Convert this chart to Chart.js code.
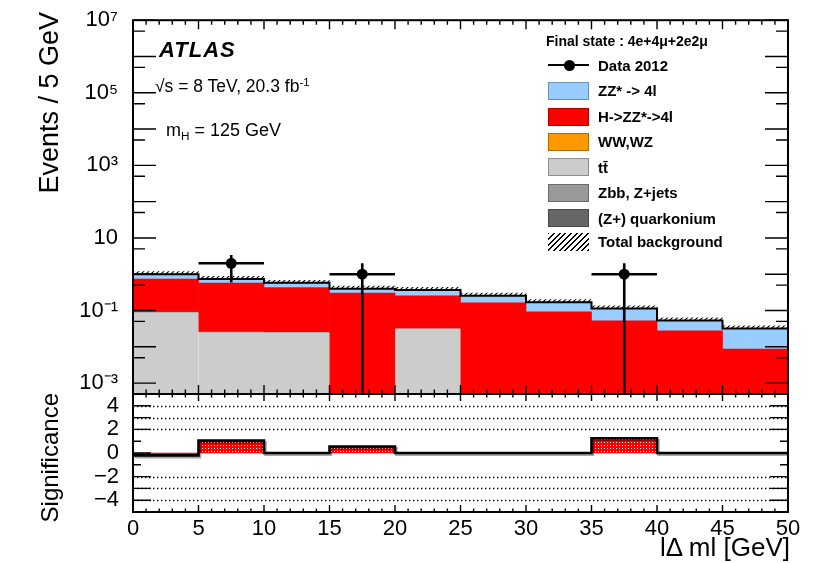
<!DOCTYPE html>
<html>
<head>
<meta charset="utf-8">
<script src="https://cdn.jsdelivr.net/npm/chart.js@4.4.1/dist/chart.umd.min.js"></script>
<style>
  html, body { margin: 0; background: #fff; overflow: hidden; }
  #wrap { position: relative; width: 830px; height: 563px; overflow: hidden;
          font-family: "Liberation Sans", Arial, Helvetica, sans-serif; color: #000; }
  canvas { position: absolute; left: 0; top: 0; }
  .txt { position: absolute; white-space: nowrap; line-height: 1; }
  .rot { transform-origin: 100% 0; transform: rotate(-90deg); text-align: right; width: 300px; }
  .sw { position: absolute; left: 548px; width: 41px; height: 18px; box-sizing: border-box;
        border: 1px solid rgba(0,0,0,0.3); }
  .lg { position: absolute; left: 598px; font-weight: bold; font-size: 15px; line-height: 1; white-space: nowrap; }
  .sup { position: relative; top: -0.55em; font-size: 0.65em; }
  .sub { position: relative; top: 0.3em; font-size: 0.65em; }
</style>
</head>
<body>
<div id="wrap">
  <canvas id="mainChart" width="830" height="563"></canvas>
  <canvas id="sigChart" width="830" height="563"></canvas>

  <div class="txt rot" style="left:-264px; top:12px; font-size:27px;">Events / 5 GeV</div>
  <div class="txt rot" style="left:-262px; top:393px; font-size:24px;">Significance</div>
  <div class="txt" style="right:40px; top:534px; font-size:26px;">lΔ ml [GeV]</div>

  <div class="txt" style="left:159px; top:39px; font-size:22px; font-weight:bold; font-style:italic; letter-spacing:1px;">ATLAS</div>
  <div class="txt" style="left:155px; top:78px; font-size:17.5px;">√s = 8 TeV, 20.3 fb<span class="sup">-1</span></div>
  <div class="txt" style="left:166px; top:121px; font-size:18px;">m<span class="sub">H</span> = 125 GeV</div>

  <div id="legend"></div>
</div>

<script>
// bins of |delta m| (GeV)
const binCenters = [2.5, 7.5, 12.5, 17.5, 22.5, 27.5, 32.5, 37.5, 42.5, 47.5];
const binWidth = 5;

// data 2012
const dataCounts = [0, 2, 0, 1, 0, 0, 0, 1, 0, 0];
const dataErr    = [0, 1.41, 0, 1, 0, 0, 0, 1, 0, 0];

// expected contributions (events / 5 GeV), stacked bottom -> top
const quarkonium = [0, 0, 0, 0, 0, 0, 0, 0, 0, 0];
const zbbZjets   = [0, 0, 0, 0, 0, 0, 0, 0, 0, 0];
const ttbar      = [0.09, 0.026, 0.025, 0, 0.032, 0, 0, 0, 0, 0];
const wwwz       = [0, 0, 0, 0, 0, 0, 0, 0, 0, 0];
const higgs      = [0.64, 0.54, 0.405, 0.30, 0.223, 0.163, 0.092, 0.052, 0.0275, 0.0086];
const zzStar     = [0.27, 0.174, 0.15, 0.10, 0.115, 0.092, 0.078, 0.062, 0.0255, 0.0234];
const bkgErr     = [0.18, 0.13, 0.10, 0.07, 0.066, 0.046, 0.03, 0.02, 0.01, 0.006];

// lower panel
const significance = [-0.2, 1.05, 0, 0.55, 0, 0, 0, 1.25, 0, 0];

// axis ticks
const xTickValues = [0, 5, 10, 15, 20, 25, 30, 35, 40, 45, 50];
const xTickLabels = ['0', '5', '10', '15', '20', '25', '30', '35', '40', '45', '50'];
const yTickValues = [1e-3, 1e-1, 1e1, 1e3, 1e5, 1e7];
const yTickLabels = ['10⁻³', '10⁻¹', '10', '10³', '10⁵', '10⁷'];
const sigTickValues = [-4, -2, 0, 2, 4];
const sigTickLabels = ['−4', '−2', '0', '2', '4'];
const sigGridValues = [-4, -3, -2, 2, 3, 4];

const FONT = '"Liberation Sans", Arial, Helvetica, sans-serif';
const LOG_FLOOR = 1e-5; // below the axis minimum, log axis cannot take 0

const layers = [
  { label: 'ZZ* -> 4l',         values: zzStar,     color: '#99ccff' },
  { label: 'H->ZZ*->4l',        values: higgs,      color: '#ff0000' },
  { label: 'WW,WZ',             values: wwwz,       color: '#ff9900' },
  { label: 'tt̄',               values: ttbar,      color: '#cccccc' },
  { label: 'Zbb, Z+jets',       values: zbbZjets,   color: '#999999' },
  { label: '(Z+) quarkonium',   values: quarkonium, color: '#666666' },
];

// ---------- legend (html) ----------
const legend = document.getElementById('legend');
let html = '<div class="lg" style="left:546px; top:34px; font-size:14px;">Final state : 4e+4μ+2e2μ</div>';
const rowY = [65, 90.7, 116.5, 141.7, 166.8, 192.5, 218, 241.7];
html += '<div style="position:absolute; left:548px; top:' + (rowY[0] - 1.25) + 'px; width:41px; height:2.5px; background:#000;"></div>';
html += '<div style="position:absolute; left:563.5px; top:' + (rowY[0] - 5.5) + 'px; width:11px; height:11px; border-radius:50%; background:#000;"></div>';
html += '<div class="lg" style="top:' + (rowY[0] - 7.3) + 'px;">Data 2012</div>';
layers.forEach((l, i) => {
  const y = rowY[i + 1];
  html += '<div class="sw" style="top:' + (y - 9) + 'px; background:' + l.color + ';"></div>';
  html += '<div class="lg" style="top:' + (y - 7.3) + 'px;">' + l.label + '</div>';
});
const yt = rowY[7];
html += '<div class="sw" style="top:' + (yt - 9) + 'px; border:none; background:repeating-linear-gradient(135deg, #000 0 1.3px, transparent 1.3px 4px);"></div>';
html += '<div class="lg" style="top:' + (yt - 7.3) + 'px;">Total background</div>';
legend.innerHTML = html;

// ---------- patterns ----------
function makePattern(w, h, draw) {
  const c = document.createElement('canvas');
  c.width = w; c.height = h;
  const g = c.getContext('2d');
  draw(g);
  return g.createPattern(c, 'repeat');
}
const hatch = makePattern(5, 5, g => {
  g.strokeStyle = '#000'; g.lineWidth = 1.1;
  g.beginPath();
  g.moveTo(0, 5); g.lineTo(5, 0);
  g.moveTo(-1, 1); g.lineTo(1, -1);
  g.moveTo(4, 6); g.lineTo(6, 4);
  g.stroke();
});
const dots = makePattern(3, 3, g => {
  g.fillStyle = '#ff0000'; g.fillRect(0, 0, 3, 3);
  g.fillStyle = '#ffffff'; g.fillRect(1, 1, 1, 1);
});

// ---------- helpers ----------
function drawFrame(chart, xLen, yTicks) {
  const { ctx, chartArea: a, scales } = chart;
  ctx.save();
  ctx.strokeStyle = '#000';
  ctx.lineWidth = 1.4;
  ctx.beginPath();
  for (let v = 0; v <= 50; v++) {
    const px = scales.x.getPixelForValue(v);
    const len = v % 5 === 0 ? xLen[0] : xLen[1];
    ctx.moveTo(px, a.bottom); ctx.lineTo(px, a.bottom - len);
    ctx.moveTo(px, a.top); ctx.lineTo(px, a.top + len);
  }
  yTicks.forEach(([v, len]) => {
    const py = scales.y.getPixelForValue(v);
    ctx.moveTo(a.left, py); ctx.lineTo(a.left + len, py);
    ctx.moveTo(a.right, py); ctx.lineTo(a.right - len, py);
  });
  ctx.stroke();
  ctx.lineWidth = 2;
  ctx.strokeRect(a.left, a.top, a.right - a.left, a.bottom - a.top);
  ctx.restore();
}

function stepPoints(values) {
  const pts = values.map((v, i) => ({ x: binCenters[i] - binWidth / 2, y: v }));
  pts.push({ x: binCenters[binCenters.length - 1] + binWidth / 2, y: values[values.length - 1] });
  return pts;
}

// ---------- main panel ----------
const base = binCenters.map(() => 0);
const barSets = [];
const bottomUp = layers.slice().reverse();
bottomUp.forEach(l => {
  const data = binCenters.map((x, i) => {
    const lo = base[i];
    const hi = lo + l.values[i];
    base[i] = hi;
    return l.values[i] > 0 ? { x: x, y: [Math.max(lo, LOG_FLOOR), hi] } : { x: x, y: null };
  });
  barSets.push({
    type: 'bar', label: l.label, data: data, backgroundColor: l.color,
    borderWidth: l.values === ttbar ? { top: 1, left: 0, right: 0, bottom: 0 } : 0,
    borderColor: '#a8a8a8', borderSkipped: false,
    grouped: false, barPercentage: 1, categoryPercentage: 1, order: 10,
  });
});
const total = base.slice();

const mainTicks = [];
for (let e = -4; e <= 7; e++) {
  const d = Math.pow(10, e);
  if (d >= 5e-4) mainTicks.push([d, 23]);
  if (5 * d < 1e7 && 5 * d > 5e-4) mainTicks.push([5 * d, 12]);
}

new Chart(document.getElementById('mainChart'), {
  type: 'bar',
  data: {
    datasets: [
      ...barSets,
      {
        type: 'bar', label: 'Total background',
        data: binCenters.map((x, i) => ({ x: x, y: [total[i], total[i] + bkgErr[i]] })),
        backgroundColor: hatch, borderWidth: 0,
        grouped: false, barPercentage: 1, categoryPercentage: 1, order: 5,
      },
      {
        type: 'line', label: 'total', data: stepPoints(total), stepped: 'before',
        borderColor: '#000', borderWidth: 2, pointRadius: 0, fill: false, order: 3,
      },
      {
        type: 'line', label: 'Data 2012',
        data: binCenters.map((x, i) => ({ x: x, y: dataCounts[i] > 0 ? dataCounts[i] : null })),
        showLine: false, pointRadius: 5.5, pointBackgroundColor: '#000', pointBorderColor: '#000',
        pointBorderWidth: 0, order: 1,
      },
    ],
  },
  options: {
    responsive: false,
    animation: false,
    layout: { padding: { left: 0, right: 42, top: 20, bottom: 169 } },
    plugins: { legend: { display: false }, tooltip: { enabled: false } },
    scales: {
      x: { type: 'linear', min: 0, max: 50, offset: false, display: false },
      y: {
        type: 'logarithmic', min: 5e-4, max: 1e7,
        afterBuildTicks: s => { s.ticks = yTickValues.map(v => ({ value: v })); },
        afterFit: s => { s.width = 133; },
        grid: { display: false }, border: { display: false },
        ticks: {
          autoSkip: false, padding: 7, color: '#000',
          font: { family: FONT, size: 22 },
          callback: (v, i) => yTickLabels[i],
        },
      },
    },
  },
  plugins: [{
    id: 'mainDecor',
    afterDatasetsDraw(chart) {
      const { ctx, chartArea: a, scales } = chart;
      ctx.save();
      ctx.strokeStyle = '#000';
      ctx.lineWidth = 2.6;
      ctx.beginPath();
      dataCounts.forEach((n, i) => {
        if (n <= 0) return;
        const y = scales.y.getPixelForValue(n);
        ctx.moveTo(scales.x.getPixelForValue(binCenters[i] - binWidth / 2), y);
        ctx.lineTo(scales.x.getPixelForValue(binCenters[i] + binWidth / 2), y);
        const lo = n - dataErr[i];
        const yLo = lo > scales.y.min ? scales.y.getPixelForValue(lo) : a.bottom;
        const px = scales.x.getPixelForValue(binCenters[i]);
        ctx.moveTo(px, scales.y.getPixelForValue(n + dataErr[i]));
        ctx.lineTo(px, yLo);
      });
      ctx.stroke();
      ctx.restore();
    },
    afterDraw(chart) { drawFrame(chart, [9, 4.5], mainTicks); },
  }],
});

// ---------- significance panel ----------
const sigTicks = [[-4, 18], [-3, 18], [-2, 18], [-1, 8], [0, 18], [1, 8], [2, 18], [3, 18], [4, 18]];

new Chart(document.getElementById('sigChart'), {
  type: 'bar',
  data: {
    datasets: [
      {
        type: 'bar', label: 'significance',
        data: binCenters.map((x, i) => ({ x: x, y: significance[i] })),
        backgroundColor: dots, borderWidth: 0,
        grouped: false, barPercentage: 1, categoryPercentage: 1, order: 5,
      },
      {
        type: 'line', label: 'outline', data: stepPoints(significance), stepped: 'before',
        borderColor: '#000', borderWidth: 2.6, pointRadius: 0, fill: false, order: 1,
        shadow: true,
      },
    ],
  },
  options: {
    responsive: false,
    animation: false,
    layout: { padding: { left: 0, right: 42, top: 394, bottom: 0 } },
    plugins: { legend: { display: false }, tooltip: { enabled: false } },
    scales: {
      x: {
        type: 'linear', min: 0, max: 50, offset: false,
        afterBuildTicks: s => { s.ticks = xTickValues.map(v => ({ value: v })); },
        afterFit: s => { s.height = 51; },
        grid: { display: false }, border: { display: false },
        ticks: {
          autoSkip: false, maxRotation: 0, padding: -4, color: '#000',
          font: { family: FONT, size: 22 },
          callback: (v, i) => xTickLabels[i],
        },
      },
      y: {
        type: 'linear', min: -5, max: 5,
        afterBuildTicks: s => { s.ticks = sigTickValues.map(v => ({ value: v })); },
        afterFit: s => { s.width = 133; },
        grid: { display: false }, border: { display: false },
        ticks: {
          autoSkip: false, padding: 6, color: '#000',
          font: { family: FONT, size: 22 },
          callback: (v, i) => sigTickLabels[i],
        },
      },
    },
  },
  plugins: [{
    id: 'sigDecor',
    beforeDatasetsDraw(chart) {
      const { ctx, chartArea: a, scales } = chart;
      ctx.save();
      ctx.strokeStyle = '#000';
      ctx.lineWidth = 1.3;
      ctx.setLineDash([1.4, 2.6]);
      ctx.beginPath();
      sigGridValues.forEach(v => {
        const py = Math.round(scales.y.getPixelForValue(v)) + 0.5;
        ctx.moveTo(a.left, py); ctx.lineTo(a.right, py);
      });
      ctx.stroke();
      ctx.restore();
    },
    beforeDatasetDraw(chart, args) {
      if (!chart.data.datasets[args.index].shadow) return;
      const ctx = chart.ctx;
      ctx.save();
      ctx.shadowColor = 'rgba(0,0,0,0.35)';
      ctx.shadowOffsetX = 1.5;
      ctx.shadowOffsetY = 1.8;
    },
    afterDatasetDraw(chart, args) {
      if (!chart.data.datasets[args.index].shadow) return;
      chart.ctx.restore();
    },
    afterDraw(chart) { drawFrame(chart, [7, 3.5], sigTicks); },
  }],
});
</script>
</body>
</html>
